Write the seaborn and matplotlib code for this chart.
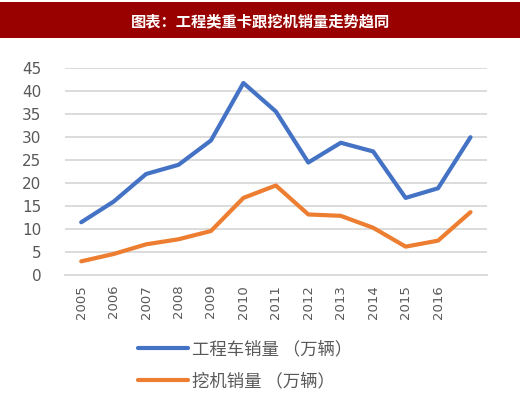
import pandas as pd
import seaborn as sns
import matplotlib.pyplot as plt
from matplotlib.patches import Rectangle

# 年份（最后一个点 2017 在原图中无标签）
years = [2005, 2006, 2007, 2008, 2009, 2010, 2011, 2012, 2013, 2014, 2015, 2016, 2017]
year_labels = ['2005', '2006', '2007', '2008', '2009', '2010', '2011', '2012',
               '2013', '2014', '2015', '2016']
truck = [11.5, 16.0, 22.0, 24.0, 29.3, 41.8, 35.6, 24.5, 28.8, 26.9, 16.8, 18.9, 30.0]
digger = [3.0, 4.6, 6.7, 7.8, 9.6, 16.8, 19.5, 13.2, 12.9, 10.3, 6.2, 7.5, 13.7]
series_names = ['工程车销量 （万辆）', '挖机销量 （万辆）']
title = '图表：工程类重卡跟挖机销量走势趋同'

sns.set_style('white')
plt.rcParams['font.family'] = ['Noto Sans CJK SC', 'DejaVu Sans']

df = pd.DataFrame({'year': years * 2,
                   'value': truck + digger,
                   'series': [series_names[0]] * len(years) + [series_names[1]] * len(years)})

fig = plt.figure(figsize=(5.2, 3.97), dpi=100)
ax = fig.add_axes([0.125, 0.307, 0.811, 0.521])

sns.lineplot(data=df, x='year', y='value', hue='series',
             palette=['#4472C4', '#ED7D31'], linewidth=3, ax=ax, legend=False)

ax.set_ylim(0, 45)
ax.set_yticks(range(0, 46, 5))
ax.set_xlim(years[0] - 0.5, years[-1] + 0.5)
ax.set_xticks(years[:len(year_labels)])
ax.set_xticklabels(year_labels, rotation=90, fontsize=9.5, color='#595959', family='DejaVu Sans')
ax.tick_params(axis='y', labelsize=11, labelcolor='#595959', length=0, pad=17)
ax.tick_params(axis='x', length=0, pad=7)
for lab in ax.get_yticklabels():
    lab.set_family('DejaVu Sans')
ax.yaxis.grid(True, color='#d9d9d9', linewidth=1.3)
ax.set_axisbelow(True)
for s in ['left', 'right', 'top']:
    ax.spines[s].set_visible(False)
ax.spines['bottom'].set_color('#d9d9d9')
ax.spines['bottom'].set_linewidth(1.3)
ax.set_xlabel('')
ax.set_ylabel('')

# 图例
handles = [plt.Line2D([], [], color='#4472C4', linewidth=3),
           plt.Line2D([], [], color='#ED7D31', linewidth=3)]
fig.legend(handles, series_names, loc='lower left', bbox_to_anchor=(0.235, -0.022),
           frameon=False, fontsize=12.5, handlelength=2.9, handletextpad=0.2,
           labelspacing=0.8, labelcolor='#595959')

# 标题栏
fig.patches.append(Rectangle((0, 0.905), 1, 0.09, transform=fig.transFigure,
                             facecolor='#990000', edgecolor='none'))
fig.text(0.5, 0.946, title, color='white', fontsize=11, fontweight='bold',
         ha='center', va='center')

fig.savefig('out.png', dpi=100)
